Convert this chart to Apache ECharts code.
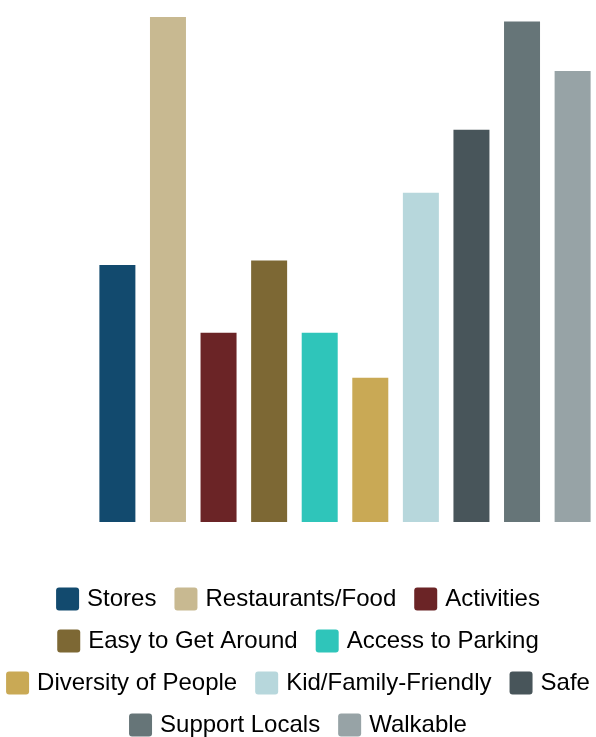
<!DOCTYPE html>
<html>
<head>
<meta charset="utf-8">
<script src="https://cdn.jsdelivr.net/npm/echarts@6/dist/echarts.min.js"></script>
<style>
  html, body { margin: 0; padding: 0; background: #fff; }
  #chart { width: 596px; height: 737px; }
</style>
</head>
<body>
<div id="chart"></div>
<script>
const names = ['Stores', 'Restaurants/Food', 'Activities', 'Easy to Get Around', 'Access to Parking',
  'Diversity of People', 'Kid/Family-Friendly', 'Safe', 'Support Locals', 'Walkable']
const values = [57, 112, 42, 58, 42, 32, 73, 87, 111, 100]
const colors = ['#124a6e', '#c8b991', '#6b2426', '#7d6834', '#2fc5ba',
  '#c9a955', '#b7d7dc', '#48555a', '#667578', '#97a3a6']
const legendRows = [
  ['Stores', 'Restaurants/Food', 'Activities'],
  ['Easy to Get Around', 'Access to Parking'],
  ['Diversity of People', 'Kid/Family-Friendly', 'Safe'],
  ['Support Locals', 'Walkable']
]
const legendTops = [587, 629, 671, 713]

const chart = echarts.init(document.getElementById('chart'))

// small-radius square for the legend keys
const keyIcon = 'path://M3,0 H20 Q23,0 23,3 V20 Q23,23 20,23 H3 Q0,23 0,20 V3 Q0,0 3,0 Z'

const option = {
  animation: false,
  backgroundColor: '#fff',
  grid: { left: 99, right: 5, top: 17, bottom: 215 },
  legend: legendRows.map((row, i) => ({
    data: row,
    top: legendTops[i],
    left: 'center',
    padding: 0,
    itemWidth: 23,
    itemHeight: 23,
    itemGap: 18,
    icon: keyIcon,
    textStyle: {
      fontFamily: 'Liberation Sans',
      fontSize: 24,
      color: '#000',
      padding: [0, 0, 0, 3]
    }
  })),
  xAxis: {
    type: 'category',
    data: [''],
    show: false
  },
  yAxis: {
    type: 'value',
    min: 0,
    max: 112,
    show: false
  },
  series: names.map((n, i) => ({
    name: n,
    type: 'bar',
    barWidth: 36,
    barGap: '40.5%',
    itemStyle: { color: colors[i] },
    data: [values[i]]
  }))
}

chart.setOption(option)
</script>
</body>
</html>
